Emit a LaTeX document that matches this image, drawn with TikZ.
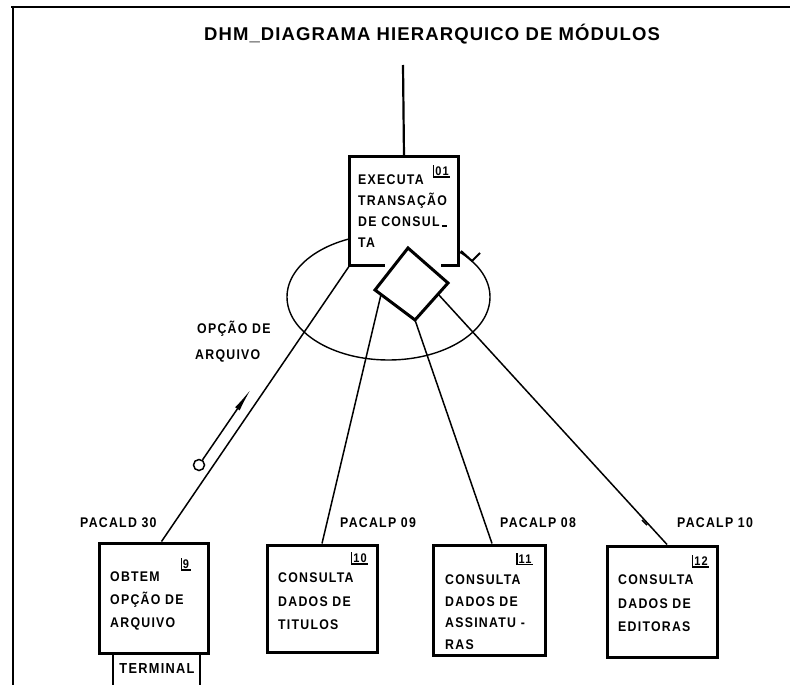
\documentclass[tikz,border=0pt]{standalone}
\usepackage{fontspec}
\setmainfont{Liberation Sans}
\newfontfamily\lab{Liberation Sans}[LetterSpace=9, FakeStretch=0.88]
\newfontfamily\ttl{Liberation Sans}[LetterSpace=6]
\usetikzlibrary{arrows.meta,calc}
\begin{document}
\begin{tikzpicture}[x=1pt,y=-1pt,
  frame/.style={line width=2.4pt},
  boxline/.style={line width=3pt, line join=miter},
  link/.style={line width=1.5pt},
  loopline/.style={line width=1.4pt},
  modbox/.style={draw, line width=3pt, fill=white, inner sep=0pt},
  txt/.style={font=\lab\bfseries\fontsize{14}{23}\selectfont, inner sep=0pt, align=left, anchor=north west},
  lbl/.style={font=\lab\bfseries\fontsize{14}{16}\selectfont, inner sep=0pt, anchor=west},
  numtxt/.style={font=\lab\bfseries\fontsize{12.5}{12.5}\selectfont, inner sep=1.3pt},
  bracket/.style={line width=1.3pt}
]
\useasboundingbox (0,0) rectangle (790,685);
% frame
\draw[frame] (11,7) -- (790,7);
\draw[frame] (13,6) -- (13,685);
% title
\node[font=\ttl\bfseries\fontsize{18.5}{20}\selectfont, inner sep=0pt] (title) at (432,34) {DHM\_DIAGRAMA HIERARQUICO DE MÓDULOS};
% loop ellipse
\draw[loopline] (388.5,297) ellipse [x radius=101.5pt, y radius=63pt];
% main box
\node[fill=white, minimum width=108pt, minimum height=108pt, inner sep=0pt] (main) at (404,211) {};
\draw[boxline] ([xshift=35pt]main.south west) -- (main.south west) -- (main.north west) -- (main.north east) -- (main.south east) -- ([xshift=-17pt]main.south east);
\coordinate (in) at (403,65);
\draw[line width=2.2pt] (in) -- (main.north);
\node[txt, font=\lab\bfseries\fontsize{14}{21}\selectfont] (maintxt) at (358,175) {EXECUTA\\TRANSAÇÃO\\DE CONSUL\,\rule{5pt}{1.5pt}\\TA};
\node[numtxt] (n1) at (442,171) {01};
\draw[bracket] (n1.north west) |- (n1.south east);
% loop arrow tick
\draw[line width=2pt, line join=miter] (461,251) -- (472,261) -- (480,253);
% diamond
\coordinate (dt) at (408,248);
\coordinate (dr) at (448,283);
\coordinate (db) at (415,320);
\coordinate (dl) at (375,290);
\filldraw[fill=white, boxline] (dt) -- (dr) -- (db) -- (dl) -- cycle;
\coordinate (d2) at ($(dl)!0.15!(db)$);
\coordinate (d4) at ($(dr)!0.3!(db)$);
% child boxes
\node[modbox, minimum width=109pt, minimum height=110pt] (a) at (153.5,598) {};
\node[modbox, minimum width=110pt, minimum height=107pt] (b) at (322,598.5) {};
\node[modbox, minimum width=112pt, minimum height=110pt] (c) at (489,600) {};
\node[modbox, minimum width=110pt, minimum height=111pt] (d) at (662,601.5) {};
% connectors
\draw[link] (main.south west) -- ([xshift=8pt]a.north);
\draw[link] (d2) -- (b.north);
\draw[link] (db) -- ([xshift=3pt]c.north);
\draw[link] (d4) -- ([xshift=5pt]d.north);
\coordinate (sp1) at (647,525);
\coordinate (sp2) at (642,520);
\draw[line width=1.6pt] (sp1) -- (sp2);
% box texts
\node[txt] (ta) at (110,572) {OBTEM\\OPÇÃO DE\\ARQUIVO};
\node[txt, font=\lab\bfseries\fontsize{14}{23.5}\selectfont] (tb) at (278,573) {CONSULTA\\DADOS DE\\TITULOS};
\node[txt, font=\lab\bfseries\fontsize{14}{21.5}\selectfont] (tc) at (445,575) {CONSULTA\\DADOS DE\\ASSINATU -\\RAS};
\node[txt, font=\lab\bfseries\fontsize{14}{23.5}\selectfont] (td) at (618,575) {CONSULTA\\DADOS DE\\EDITORAS};
% numbers
\node[numtxt] (na) at (186,564) {9};
\node[numtxt] (nb) at (360,558) {10};
\node[numtxt] (nc) at (525,559) {11};
\node[numtxt] (nd) at (701,561) {12};
\foreach \n in {na,nb,nc,nd} \draw[bracket] (\n.north west) |- (\n.south east);
% terminal
\node[font=\lab\bfseries\fontsize{14.5}{15}\selectfont, inner sep=0pt] (term) at (157,669) {TERMINAL};
\coordinate (tl) at (113,685);
\coordinate (tr) at (200,685);
\draw[line width=1.1pt] (a.south -| tl) -- (tl);
\draw[line width=1.1pt] (a.south -| tr) -- (tr);
% call labels
\node[lbl] (pa) at (80,523) {PACALD 30};
\node[lbl] (pb) at (340,523) {PACALP 09};
\node[lbl] (pc) at (500,523) {PACALP 08};
\node[lbl] (pd) at (677,523) {PACALP 10};
% loop label
\node[lbl] (op1) at (197,329) {OPÇÃO DE};
\node[lbl] (op2) at (195,356) {ARQUIVO};
% data couple
\node[circle, draw, line width=1.5pt, minimum size=11pt, inner sep=0pt] (oc) at (199,465) {};
\coordinate (dcend) at (251,389);
\draw[link, -{Latex[length=24pt,width=5.5pt]}] (oc) -- (dcend);
\end{tikzpicture}
\end{document}
